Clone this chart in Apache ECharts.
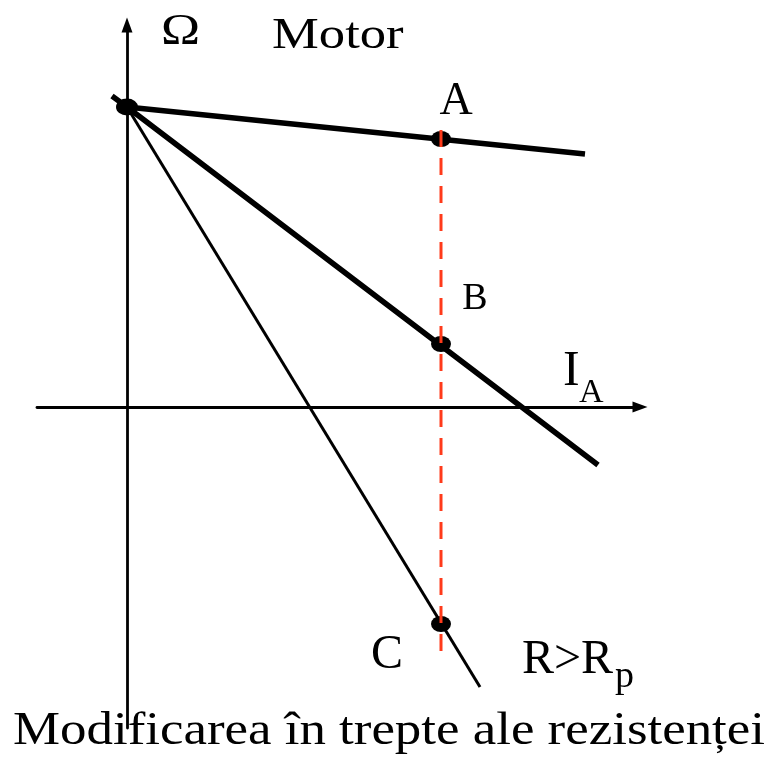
<!DOCTYPE html>
<html>
<head>
<meta charset="utf-8">
<script src="https://cdn.jsdelivr.net/npm/echarts@6/dist/echarts.min.js"></script>
<style>
  html, body { margin: 0; padding: 0; background: #fff; }
  #chart { width: 772px; height: 765px; }
</style>
</head>
<body>
<div id="chart"></div>
<script>
// schematic units: 1 unit = 100 px on both axes, origin at the axes crossing
const omega0 = 3.0;      // no-load speed (common start point)
const iLoad = 3.14;      // load current (red dashed line)

const lineA = [[0, omega0], [4.58, 2.53]];                 // natural characteristic
const lineB = [[-0.15, 3.11], [0, omega0], [4.71, -0.58]];  // first resistance step
const lineC = [[0, omega0], [3.53, -2.80]];                 // R > Rp
const dashLine = [[iLoad, 2.77], [iLoad, -2.45]];

const pointNames = ["", "A", "B", "C"];
const pointValues = [[0, omega0], [iLoad, 2.68], [iLoad, 0.63], [iLoad, -2.17]];

const serif = '"Liberation Serif", "Times New Roman", serif';

const labelStyle = {
  A: { offset: [15, -37], fontSize: 46 },
  B: { offset: [34, -45], fontSize: 38 },
  C: { offset: [-54, 31], fontSize: 48 },
};

const points = pointValues.map((v, i) => {
  const name = pointNames[i];
  const ls = labelStyle[name];
  return {
    name,
    value: v,
    symbolSize: i === 0 ? [22, 17] : [20, 16],
    label: ls
      ? { show: true, position: "inside", formatter: name, offset: ls.offset,
          fontSize: ls.fontSize, fontFamily: serif, color: "#000" }
      : { show: false },
  };
});

const chart = echarts.init(document.getElementById("chart"), null, { renderer: "canvas" });

const axisCommon = {
  type: "value",
  axisLine: {
    show: true,
    onZero: true,
    symbol: ["none", "triangle"],
    symbolSize: [11, 15],
    lineStyle: { color: "#000", width: 2.8 },
  },
  axisTick: { show: false },
  axisLabel: { show: false },
  splitLine: { show: false },
};

const txt = (text, x, y, size, scaleX) => ({
  type: "text",
  x, y,
  scaleX: scaleX || 1,
  style: {
    text,
    fill: "#000",
    font: size + "px " + serif,
    textVerticalAlign: "middle",
    verticalAlign: "middle",
  },
});

chart.setOption({
  animation: false,
  backgroundColor: "#fff",
  grid: { left: 37, top: 25, width: 603, height: 703 },
  xAxis: { ...axisCommon, min: -0.9, max: 5.13 },
  yAxis: { ...axisCommon, min: -3.21, max: 3.82 },
  graphic: [
    txt("Ω", 161, 32, 45, 1.17),
    txt("Motor", 272, 36, 45, 1.17),
    txt("I", 563, 372, 50),
    txt("A", 579, 393, 34),
    txt("R>R", 522, 660, 48),
    txt("p", 615, 677, 38),
    txt("Modificarea în trepte ale rezistenței", 13, 732, 46, 1.15),
  ],
  series: [
    { type: "line", data: lineA, symbol: "none", z: 2,
      lineStyle: { color: "#000", width: 5.5 } },
    { type: "line", data: lineB, symbol: "none", z: 2,
      lineStyle: { color: "#000", width: 5.5 } },
    { type: "line", data: lineC, symbol: "none", z: 2,
      lineStyle: { color: "#000", width: 3 } },
    { type: "scatter", data: points, z: 4,
      itemStyle: { color: "#000", opacity: 1 } },
    { type: "line", data: dashLine, symbol: "none", z: 5,
      lineStyle: { color: "#ff3a1a", width: 3, type: [17, 11] } },
  ],
});
</script>
</body>
</html>
